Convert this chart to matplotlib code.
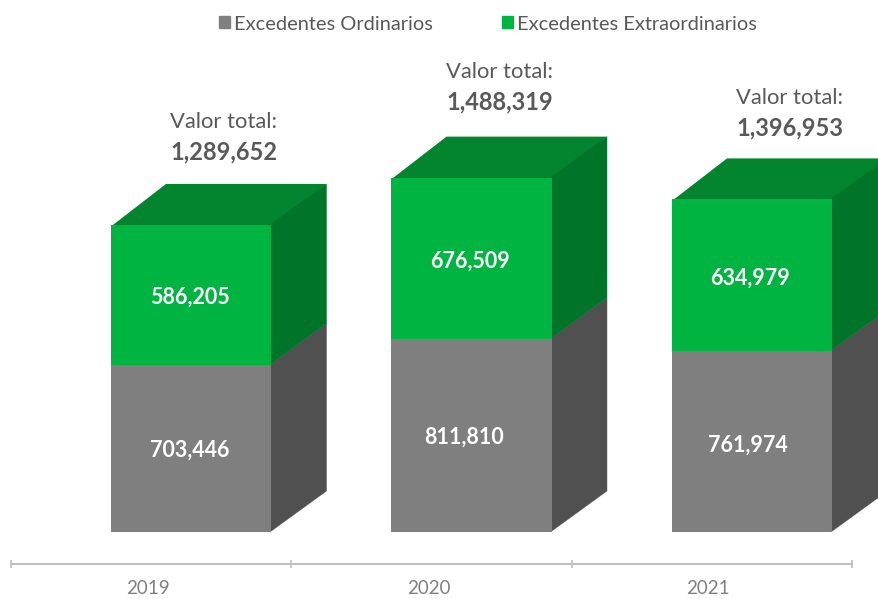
#!/usr/bin/env python3
"""Excedentes ordinarios y extraordinarios, stacked pseudo-3D columns."""
import matplotlib
matplotlib.use("Agg")
import matplotlib.pyplot as plt
from matplotlib.patches import Patch, Polygon

years = ["2019", "2020", "2021"]
ordinarios = [703446, 811810, 761974]
extraordinarios = [586205, 676509, 634979]
totales = [1289652, 1488319, 1396953]

W, H = 879, 599
BASE_PX = 532
UNITS_PER_PX = 4200.0
STEP_PX = 280.5
ZERO_PX = 151  # x pixel of category 0

GREEN, GREEN_TOP, GREEN_SIDE = "#00B441", "#03852F", "#007428"
GREY, GREY_SIDE = "#7F7F7F", "#505050"
TEXT = "#595959"

plt.rcParams["font.family"] = ["Lato", "DejaVu Sans"]

fig = plt.figure(figsize=(W / 100, H / 100), dpi=100)
ax = fig.add_axes([0, 0, 1, 1])
ax.set_xlim(-ZERO_PX / STEP_PX, (W - ZERO_PX) / STEP_PX)
ax.set_ylim(-(H - BASE_PX) * UNITS_PER_PX, BASE_PX * UNITS_PER_PX)

# front face sits right of the category centre, depth goes up and to the right
left = 111 / STEP_PX - ZERO_PX / STEP_PX
width = 160.5 / STEP_PX
dx = 55 / STEP_PX
dy = 41 * UNITS_PER_PX


def side(x, y0, y1, color):
    # drawn a bit under the front face so no light seam shows
    ov = 1.5 / STEP_PX
    ax.add_patch(Polygon([(x - ov, y0), (x + dx, y0 + dy), (x + dx, y1 + dy), (x - ov, y1)],
                         closed=True, facecolor=color, edgecolor=color, linewidth=0.3, zorder=1))


for i in range(len(years)):
    x0 = left + i
    x1 = x0 + width
    o, e = ordinarios[i], extraordinarios[i]
    side(x1, 0, o, GREY_SIDE)
    side(x1, o, o + e, GREEN_SIDE)
    top = o + e
    ov = 1.5 * UNITS_PER_PX
    ax.add_patch(Polygon([(x0, top - ov), (x1, top - ov), (x1 + dx, top + dy), (x0 + dx, top + dy)],
                         closed=True, facecolor=GREEN_TOP, edgecolor="none", zorder=0.9))
    ax.bar(x0, o, width=width, align="edge", color=GREY, zorder=2)
    ax.bar(x0, e, width=width, bottom=o, align="edge", color=GREEN, zorder=2)

# axis line with separators between the categories
spine_y = -32 * UNITS_PER_PX
for s in ["top", "left", "right"]:
    ax.spines[s].set_visible(False)
ax.spines["bottom"].set_position(("data", spine_y))
ax.spines["bottom"].set_bounds(-0.5, 2.5)
ax.spines["bottom"].set_color("#BFBFBF")
ax.spines["bottom"].set_linewidth(1.5)
ax.set_yticks([])
ax.set_xticks([-0.5, 0.5, 1.5, 2.5])
ax.set_xticklabels([])
ax.tick_params(axis="x", direction="inout", length=6, width=1.2, color="#BFBFBF")


def put(px, py, s, **kw):
    fig.text(px / W, 1 - py / H, s, ha="center", va="center", **kw)


year_px = [147.5, 429, 708]
for px, y in zip(year_px, years):
    put(px, 588.5, y, fontsize=13.5, color="#808080")

total_px = [(224, 122, 151.5), (500, 72, 101.5), (790, 98, 127.5)]
for (px, py1, py2), v in zip(total_px, totales):
    put(px, py1, "Valor total:", fontsize=15.8, color=TEXT)
    put(px, py2, f"{v:,}", fontsize=17, fontweight="bold", color=TEXT)

ord_px = [(190, 450), (464, 437), (748, 445)]
ext_px = [(190, 297), (470, 261), (750, 278)]
for (px, py), v in zip(ord_px, ordinarios):
    put(px, py, f"{v:,}", fontsize=15.5, fontweight="bold", color="white")
for (px, py), v in zip(ext_px, extraordinarios):
    put(px, py, f"{v:,}", fontsize=15.5, fontweight="bold", color="white")

handles = [Patch(color=GREY, label="Excedentes Ordinarios"),
           Patch(color=GREEN, label="Excedentes Extraordinarios")]
ax.legend(handles=handles, ncol=2, frameon=False, fontsize=14.4, labelcolor=TEXT,
          loc="center", bbox_to_anchor=(488 / W, 1 - 24 / H),
          handlelength=0.55, handleheight=0.55, handletextpad=0.2, columnspacing=3.45)

plt.savefig("out.png", dpi=100)
plt.close()
